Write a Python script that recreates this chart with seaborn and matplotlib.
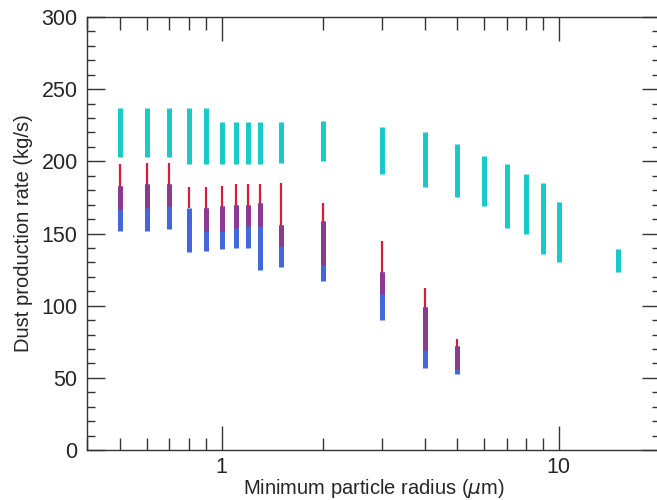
import numpy as np
import pandas as pd
import seaborn as sns
import matplotlib.pyplot as plt
from matplotlib.ticker import MultipleLocator, FixedLocator, NullFormatter, FixedFormatter

# minimum particle radius (um) for every run
radius_all = [0.5, 0.6, 0.7, 0.8, 0.9, 1.0, 1.1, 1.2, 1.3, 1.5, 2, 3, 4, 5, 6, 7, 8, 9, 10, 15]
cyan_lo = [203, 203, 203, 198, 198, 198, 198, 198, 198, 199, 200, 191, 182, 175, 169, 154, 150, 136, 130, 123]
cyan_hi = [237, 237, 237, 237, 237, 227, 227, 227, 227, 227, 228, 224, 220, 212, 204, 198, 191, 185, 172, 139]

# red and blue ranges only go up to 5 um
radius_rb = [0.5, 0.6, 0.7, 0.8, 0.9, 1.0, 1.1, 1.2, 1.3, 1.5, 2, 3, 4, 5]
red_lo = [167, 168, 169, 168, 152, 152, 154, 155, 155, 141, 128, 108, 69, 56]
red_hi = [198, 199, 199, 182, 182, 183, 184, 184, 184, 185, 171, 145, 112, 77]
blue_lo = [152, 152, 153, 137, 138, 139, 140, 140, 125, 127, 117, 90, 57, 53]
blue_hi = [183, 184, 184, 168, 168, 169, 170, 170, 171, 156, 159, 123, 99, 72]

CYAN = "#1cc9c9"
RED = "#d81b3f"
BLUE = "#4467dd"
PURPLE = "#8a3a90"


def to_long(xs, lo, hi):
    # two points per bar, one unit per bar -> vertical segment
    rows = []
    for i, (x, a, b) in enumerate(zip(xs, lo, hi)):
        if b <= a:
            continue
        rows.append((i, x, a))
        rows.append((i, x, b))
    return pd.DataFrame(rows, columns=["bar", "radius", "rate"])


# overlap of red and blue ranges shows up purple
ov_lo = np.maximum(red_lo, blue_lo)
ov_hi = np.minimum(red_hi, blue_hi)

sns.set_style("white")
plt.rcParams["font.family"] = ["Liberation Sans", "DejaVu Sans"]

fig = plt.figure(figsize=(6.57, 5), dpi=100)
ax = fig.add_axes([0.133, 0.1, 0.872, 0.866])
ax.set_xscale("log")

line_kw = dict(x="radius", y="rate", units="bar", estimator=None, sort=False,
               legend=False, ax=ax, solid_capstyle="butt")
sns.lineplot(data=to_long(radius_all, cyan_lo, cyan_hi), color=CYAN, lw=3.6, **line_kw)
sns.lineplot(data=to_long(radius_rb, blue_lo, blue_hi), color=BLUE, lw=3.6, **line_kw)
sns.lineplot(data=to_long(radius_rb, red_lo, red_hi), color=RED, lw=1.6, **line_kw)
sns.lineplot(data=to_long(radius_rb, ov_lo, ov_hi), color=PURPLE, lw=3.6, **line_kw)

ax.set_xlim(0.4, 20)
ax.set_ylim(0, 300)

ax.yaxis.set_major_locator(MultipleLocator(50))
ax.yaxis.set_minor_locator(MultipleLocator(10))
ax.xaxis.set_major_locator(FixedLocator([1, 10]))
ax.xaxis.set_major_formatter(FixedFormatter(["1", "10"]))
minor_x = [0.4, 0.5, 0.6, 0.7, 0.8, 0.9, 2, 3, 4, 5, 6, 7, 8, 9, 20]
ax.xaxis.set_minor_locator(FixedLocator(minor_x))
ax.xaxis.set_minor_formatter(NullFormatter())

ax.tick_params(axis="y", which="major", direction="in", length=13, width=1,
               left=True, right=True, labelsize=15.5, pad=7, color="#333333")
ax.tick_params(axis="y", which="minor", direction="in", length=5.5, width=1,
               left=True, right=True, color="#333333")
ax.tick_params(axis="x", which="major", direction="in", length=17, width=1,
               bottom=True, top=True, labelsize=15.5, pad=5, color="#333333")
ax.tick_params(axis="x", which="minor", direction="in", length=9, width=1,
               bottom=True, top=True, color="#333333")

for s in ax.spines.values():
    s.set_color("#333333")
    s.set_linewidth(1.0)

ax.set_xlabel("Minimum particle radius ($\\mu$m)", fontsize=14.5)
ax.xaxis.set_label_coords(0.5, -0.063)
ax.set_ylabel("Dust production rate (kg/s)", fontsize=14.5, labelpad=6)

fig.savefig("out.png", dpi=100)
